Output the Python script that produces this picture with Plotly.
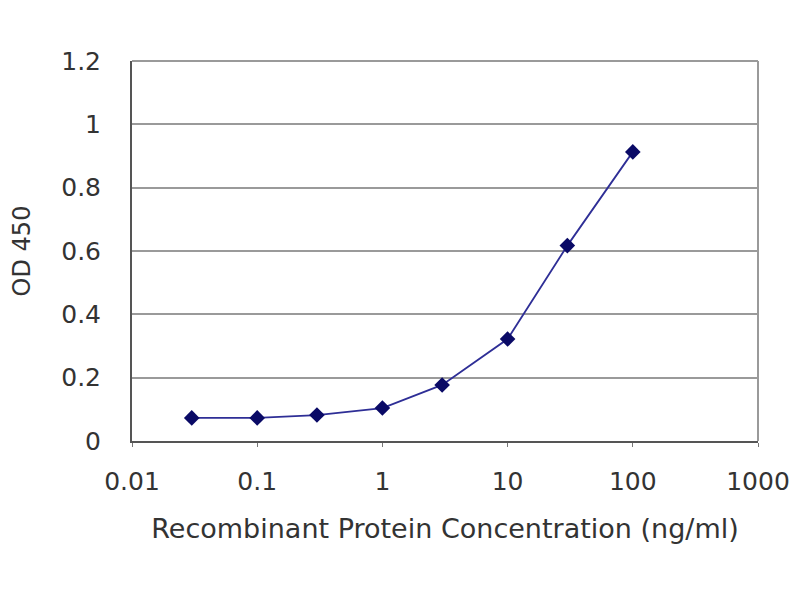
import plotly.graph_objects as go

concentration = [0.03, 0.1, 0.3, 1, 3, 10, 30, 100]
od450 = [0.073, 0.073, 0.082, 0.104, 0.177, 0.322, 0.617, 0.913]
x_ticks = [0.01, 0.1, 1, 10, 100, 1000]
x_tick_labels = ["0.01", "0.1", "1", "10", "100", "1000"]
y_ticks = [0, 0.2, 0.4, 0.6, 0.8, 1, 1.2]
y_tick_labels = ["0", "0.2", "0.4", "0.6", "0.8", "1", "1.2"]

fig = go.Figure()
fig.add_trace(go.Scatter(
    x=concentration, y=od450, mode="lines+markers",
    line=dict(color="#2e2e96", width=1.8),
    marker=dict(symbol="diamond", size=12, color="#0a0a66"),
    showlegend=False,
))

font_family = "DejaVu Sans"
fig.update_layout(
    width=800, height=600,
    margin=dict(l=122, r=50, t=53, b=167),
    paper_bgcolor="white", plot_bgcolor="white",
    font=dict(family=font_family, color="#333333", size=24),
)
fig.update_xaxes(
    type="log", range=[-2, 3],
    tickvals=x_ticks, ticktext=x_tick_labels,
    tickfont=dict(size=25, color="#333333"),
    showgrid=False, zeroline=False,
    showline=True, linecolor="#555555", linewidth=2, mirror=False,
    ticks="outside", ticklen=4, tickcolor="#777777", tickwidth=1,
    ticklabelstandoff=13,
    title=dict(text="Recombinant Protein Concentration (ng/ml)",
               font=dict(size=27, color="#333333"), standoff=24),
)
fig.update_yaxes(
    range=[0, 1.2],
    tickvals=y_ticks, ticktext=y_tick_labels,
    tickfont=dict(size=25, color="#333333"),
    showgrid=True, gridcolor="#9a9a9a", gridwidth=2,
    zeroline=False,
    showline=True, linecolor="#555555", linewidth=2,
    ticks="", ticklabelstandoff=24,
    title=dict(text="OD 450", font=dict(size=24, color="#333333"), standoff=24),
)
# right and top border of plot area
fig.add_shape(type="line", xref="paper", yref="paper", x0=1, x1=1, y0=0, y1=1,
              line=dict(color="#9a9a9a", width=2))
fig.add_shape(type="line", xref="paper", yref="paper", x0=0, x1=1, y0=1, y1=1,
              line=dict(color="#9a9a9a", width=2))

fig.write_html("out.html")
